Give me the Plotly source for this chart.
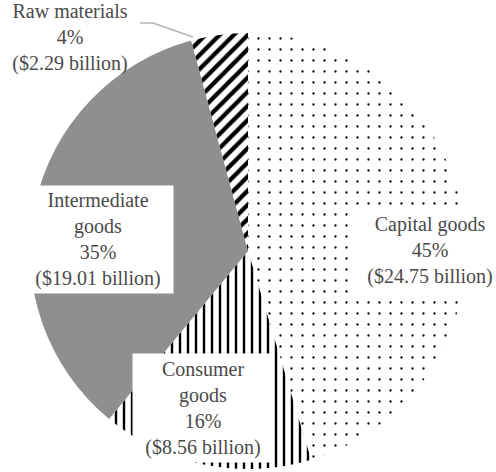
import plotly.graph_objects as go

# Export composition, clockwise from 12 o'clock
categories = ["Capital goods", "Consumer goods", "Intermediate goods", "Raw materials"]
label_lines = ["Capital goods", "Consumer<br>goods", "Intermediate<br>goods", "Raw materials"]
values_bn = [24.75, 8.56, 19.01, 2.29]

W, H = 496, 472
total = sum(values_bn)
shares = [v / total * 100 for v in values_bn]

patterns = [
    dict(shape=".", size=11, solidity=0.035),  # capital: sparse dots
    dict(shape="|", size=8, solidity=0.3),     # consumer: vertical lines
    dict(shape=".", size=2, solidity=0.5),     # intermediate: fine checker grey
    dict(shape="/", size=10, solidity=0.42),   # raw: bold diagonals
]

fig = go.Figure(go.Pie(
    labels=categories,
    values=values_bn,
    sort=False,
    direction="clockwise",
    rotation=0,
    textinfo="none",
    hoverinfo="label+percent+value",
    marker=dict(
        colors=["white"] * 4,
        line=dict(width=0),
        pattern=dict(
            shape=[p["shape"] for p in patterns],
            size=[p["size"] for p in patterns],
            solidity=[p["solidity"] for p in patterns],
            fgcolor="black",
            bgcolor="white",
            fillmode="replace",
        ),
    ),
    domain=dict(x=[0, 1], y=[1 - 469 / H, 1 - 33 / H]),
    showlegend=False,
))

# Label boxes: (centre x, centre y, box width, box height, background) in pixels
boxes = [
    (430, 250, 160, 88, "white"),
    (203, 408, 140, 108, "white"),
    (98, 239, 150, 107, "white"),
    (70, 37, 140, 76, "rgba(0,0,0,0)"),
]

serif = "Liberation Serif"

for name, share, val, (cx, cy, bw, bh, bg) in zip(label_lines, shares, values_bn, boxes):
    fig.add_annotation(
        x=cx / W, y=1 - cy / H, xref="paper", yref="paper",
        xanchor="center", yanchor="middle",
        text=f"{name}<br>{share:.0f}%<br>(${val:.2f} billion)",
        showarrow=False, align="center", valign="middle",
        width=bw, height=bh, bgcolor=bg, borderpad=0,
        font=dict(family=serif, size=20, color="#4a4a4a"),
    )

# Leader line for the small raw-materials slice
lx = [140, 153, 193]
ly = [23, 23, 37]
path = "M " + " L ".join(f"{x / W},{1 - y / H}" for x, y in zip(lx, ly))
fig.add_shape(type="path", path=path, xref="paper", yref="paper",
              line=dict(color="#b5b5b5", width=1.5))

fig.update_layout(
    width=W, height=H,
    margin=dict(l=0, r=0, t=0, b=0),
    paper_bgcolor="white",
    plot_bgcolor="white",
    font=dict(family=serif),
)

fig.write_html("out.html")
